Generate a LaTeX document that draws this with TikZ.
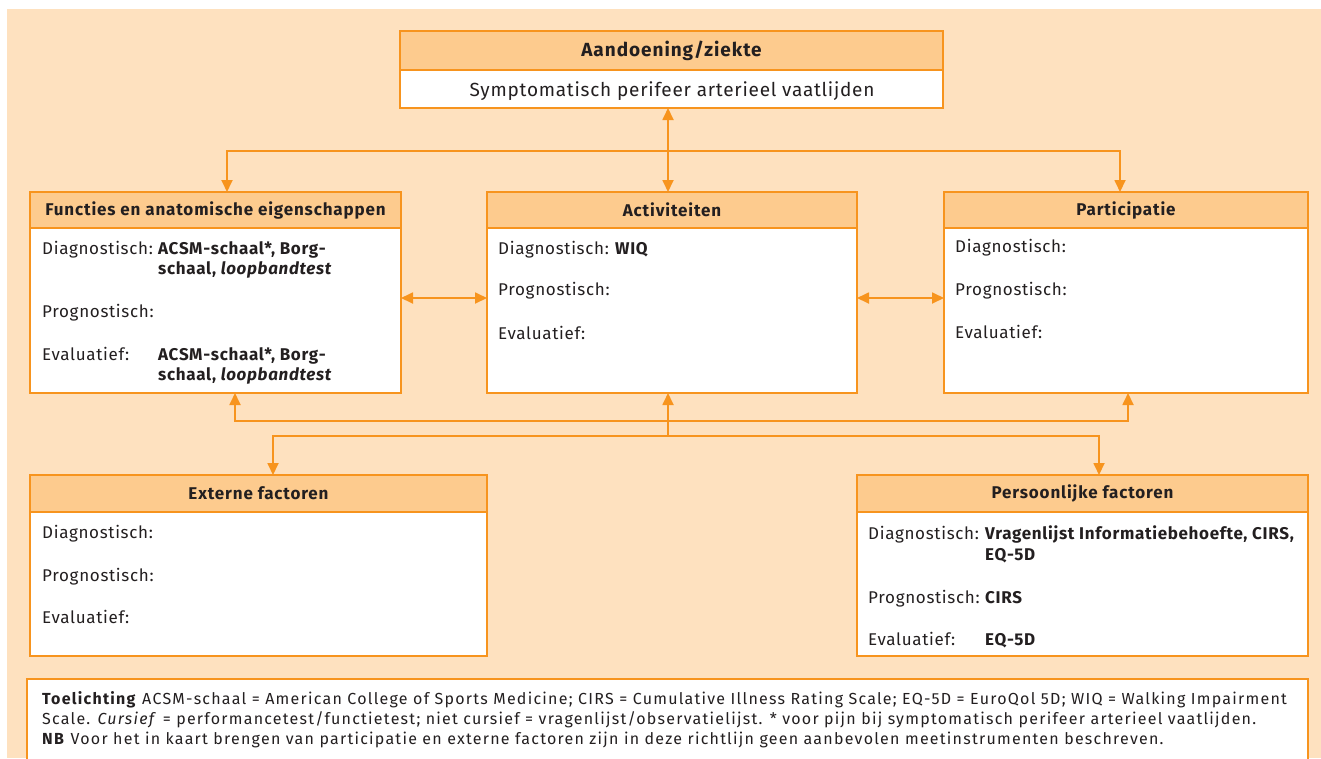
\documentclass[tikz,border=0pt]{standalone}
\usepackage{fontspec}
\setmainfont{Fira Sans}
\newfontfamily\bodyfont{Fira Sans}[LetterSpace=4]
\newfontfamily\headfont{Fira Sans}[LetterSpace=5]
\newfontfamily\notefont{Fira Sans}[LetterSpace=7.8]
\usetikzlibrary{arrows.meta}
\definecolor{bg}{HTML}{FEE1BF}
\definecolor{hd}{HTML}{FDCB8E}
\definecolor{org}{HTML}{F7941E}
\definecolor{ink}{HTML}{231F20}
\begin{document}
\begin{tikzpicture}[x=1pt,y=-1pt,
  box/.style={draw=org, line width=1.8pt, fill=white, anchor=north west, inner sep=0pt, outer sep=0pt},
  head/.style={draw=org, line width=1.8pt, fill=hd, anchor=north west, inner sep=0pt, outer sep=0pt, text=ink, font=\headfont\bfseries\fontsize{17}{20}\selectfont},
  txt/.style={anchor=base west, inner sep=0pt, text=ink, font=\bodyfont\fontsize{17}{20}\selectfont},
  note/.style={anchor=base west, inner sep=0pt, text=ink, font=\notefont\fontsize{16}{20}\selectfont},
  con/.style={draw=org, line width=1.8pt},
  tip/.tip={Triangle[length=12pt,width=11pt]}
]
\useasboundingbox (0,0) rectangle (1321,758);
\clip (0,0) rectangle (1321,758);
\fill[bg] (7,9) rectangle (1321,758);

% top box
\node[box, minimum width=543pt, minimum height=77pt] (top) at (400,31) {};
\node[head, minimum width=543pt, minimum height=39pt, font=\headfont\bfseries\fontsize{19}{22}\selectfont] (toph) at (400,31) {Aandoening/ziekte};
\node[anchor=base, inner sep=0pt, text=ink, font=\bodyfont\fontsize{19}{22}\selectfont] (topt) at (672,96) {Symptomatisch perifeer arterieel vaatlijden};

% row 2
\node[box, minimum width=371pt, minimum height=201pt] (fun) at (30,192) {};
\node[head, minimum width=371pt, minimum height=36pt] (funh) at (30,192) {Functies en anatomische eigenschappen};
\node[box, minimum width=370pt, minimum height=201pt] (act) at (487,192) {};
\node[head, minimum width=370pt, minimum height=36pt] (acth) at (487,192) {Activiteiten};
\node[box, minimum width=364pt, minimum height=201pt] (part) at (944,192) {};
\node[head, minimum width=364pt, minimum height=36pt] (parth) at (944,192) {Participatie};

% row 3
\node[box, minimum width=457pt, minimum height=181pt] (ext) at (30,475) {};
\node[head, minimum width=457pt, minimum height=37pt] (exth) at (30,475) {Externe factoren};
\node[box, minimum width=451pt, minimum height=181pt] (pers) at (857,475) {};
\node[head, minimum width=451pt, minimum height=37pt] (persh) at (857,475) {Persoonlijke factoren};

% note box
\node[box, minimum width=1281pt, minimum height=100pt] (nb) at (27,679) {};

% texts: functies
\node[txt] (f1) at (42,254) {Diagnostisch:};
\node[txt] (f1a) at (158,254) {\bfseries ACSM-schaal*, Borg-};
\node[txt] (f1b) at (158,274) {\bfseries schaal, \itshape loopbandtest};
\node[txt] (f2) at (42,317) {Prognostisch:};
\node[txt] (f3) at (42,360) {Evaluatief:};
\node[txt] (f3a) at (158,360) {\bfseries ACSM-schaal*, Borg-};
\node[txt] (f3b) at (158,380) {\bfseries schaal, \itshape loopbandtest};

% activiteiten
\node[txt] (a1) at (498,254) {Diagnostisch:};
\node[txt] (a1a) at (615,254) {\bfseries WIQ};
\node[txt] (a2) at (498,295) {Prognostisch:};
\node[txt] (a3) at (498,339) {Evaluatief:};

% participatie
\node[txt] (p1) at (955,252) {Diagnostisch:};
\node[txt] (p2) at (955,295) {Prognostisch:};
\node[txt] (p3) at (955,338) {Evaluatief:};

% externe
\node[txt] (e1) at (42,538) {Diagnostisch:};
\node[txt] (e2) at (42,581) {Prognostisch:};
\node[txt] (e3) at (42,623) {Evaluatief:};

% persoonlijke
\node[txt] (q1) at (868,539) {Diagnostisch:};
\node[txt] (q1a) at (985,539) {\bfseries Vragenlijst Informatiebehoefte, CIRS,};
\node[txt] (q1b) at (985,560) {\bfseries EQ-5D};
\node[txt] (q2) at (868,603) {Prognostisch:};
\node[txt] (q2a) at (985,603) {\bfseries CIRS};
\node[txt] (q3) at (868,645) {Evaluatief:};
\node[txt] (q3a) at (985,645) {\bfseries EQ-5D};

% note text
\node[note] (n1) at (42,704) {\textbf{Toelichting} ACSM-schaal = American College of Sports Medicine; CIRS = Cumulative Illness Rating Scale; EQ-5D = EuroQol 5D; WIQ = Walking Impairment};
\node[note] (n2) at (42,724) {Scale. \textit{Cursief} = performancetest/functietest; niet cursief = vragenlijst/observatielijst. * voor pijn bij symptomatisch perifeer arterieel vaatlijden.};
\node[note] (n3) at (42,744) {\textbf{NB} Voor het in kaart brengen van participatie en externe factoren zijn in deze richtlijn geen aanbevolen meetinstrumenten beschreven.};

% connectors
\coordinate (c1) at (668,151);
\coordinate (h1) at (227,151);
\coordinate (h2) at (1120,151);
\coordinate (m) at (0,298);
\coordinate (u1) at (235,421);
\coordinate (u2) at (1128,421);
\coordinate (l1) at (273,436);
\coordinate (l2) at (1099,436);
\coordinate (lm) at (668,436);

\draw[con, tip-tip] (c1 |- top.south) -- (c1 |- act.north);
\draw[con, tip-tip] (funh.north -| h1) -- (h1) -- (h2) -- (parth.north -| h2);
\draw[con, tip-tip] (fun.east |- m) -- (act.west |- m);
\draw[con, tip-tip] (act.east |- m) -- (part.west |- m);
\draw[con, tip-tip] (fun.south -| u1) -- (u1) -- (u2) -- (part.south -| u2);
\draw[con, tip-tip] (exth.north -| l1) -- (l1) -- (l2) -- (persh.north -| l2);
\draw[con, -tip] (lm) -- (act.south -| lm);
\end{tikzpicture}
\end{document}
